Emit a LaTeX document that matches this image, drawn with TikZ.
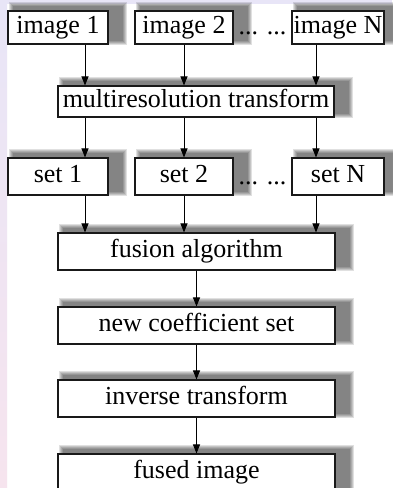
\documentclass[tikz,border=0pt]{standalone}
\usepackage{fontspec}
\setmainfont{Liberation Serif}
\usetikzlibrary{arrows.meta}
\definecolor{lav}{RGB}{232,229,247}
\definecolor{pinkish}{RGB}{246,228,238}
\pgfdeclarelayer{shadowlayer}
\pgfdeclarelayer{pagebg}
\pgfsetlayers{pagebg,shadowlayer,main}
\tikzset{
  txt/.style={inner sep=0pt, text height=17.5pt, text depth=5.5pt, font=\fontsize{26}{30}\selectfont},
  box/.style={txt, draw=black!90, line width=1.1pt, fill=white},
  arr/.style={line width=0.9pt, -{Triangle[length=9pt,width=7pt]}},
}
\begin{document}
\begin{tikzpicture}[x=1pt,y=-1pt]
\clip (0,0) rectangle (392,488);
\useasboundingbox (0,0) rectangle (392,488);
\begin{pgfonlayer}{pagebg}
\fill[white] (0,0) rectangle (392,488);
\shade[top color=lav, bottom color=pinkish] (0,0) rectangle (7,488);
\fill[lav] (0,0) rectangle (392,4);
\end{pgfonlayer}

% top row
\node[box, minimum width=100pt, minimum height=33pt] (i1) at (58,27.5) {image 1};
\node[box, minimum width=98pt, minimum height=33pt] (i2) at (184,27.5) {image 2};
\node[box, minimum width=92pt, minimum height=33pt] (iN) at (338,27.5) {image N};
\node[txt] (d1) at (262.5,28.5) {... ...};

\node[box, minimum width=276pt, minimum height=31pt] (mr) at (196,101.5) {multiresolution transform};

\node[box, minimum width=100pt, minimum height=37pt] (s1) at (58,176.5) {set 1};
\node[box, minimum width=98pt, minimum height=37pt] (s2) at (184,176.5) {set 2};
\node[box, minimum width=92pt, minimum height=37pt] (sN) at (338,176.5) {set N};
\node[txt] (d2) at (262.5,178) {... ...};

\node[box, minimum width=277pt, minimum height=37pt] (fa) at (196.5,251.5) {fusion algorithm};
\node[box, minimum width=277pt, minimum height=37pt] (nc) at (196.5,325.5) {new coefficient set};
\node[box, minimum width=277pt, minimum height=37pt] (inv) at (196.5,398.5) {inverse transform};
\node[box, minimum width=277pt, minimum height=37pt] (fu) at (196.5,472.5) {fused image};

\coordinate (xa) at (85,0);
\coordinate (xb) at (184,0);
\coordinate (xc) at (316,0);

\draw[arr] (i1.south -| xa) -- (mr.north -| xa);
\draw[arr] (i2.south -| xb) -- (mr.north -| xb);
\draw[arr] (iN.south -| xc) -- (mr.north -| xc);
\draw[arr] (mr.south -| xa) -- (s1.north -| xa);
\draw[arr] (mr.south -| xb) -- (s2.north -| xb);
\draw[arr] (mr.south -| xc) -- (sN.north -| xc);
\draw[arr] (s1.south -| xa) -- (fa.north -| xa);
\draw[arr] (s2.south -| xb) -- (fa.north -| xb);
\draw[arr] (sN.south -| xc) -- (fa.north -| xc);
\draw[arr] (fa) -- (nc);
\draw[arr] (nc) -- (inv);
\draw[arr] (inv) -- (fu);

\begin{pgfonlayer}{shadowlayer}
\foreach \n in {i1,i2,iN,mr,s1,s2,sN,fa,nc,inv,fu}{
  \foreach \r in {0,...,4}{
    \fill[black, opacity=0.12] ([shift={(6-\r,-4-\r)}]\n.north west) rectangle ([shift={(14+\r,-4+\r)}]\n.south east);
  }
}
\end{pgfonlayer}
\end{tikzpicture}
\end{document}
